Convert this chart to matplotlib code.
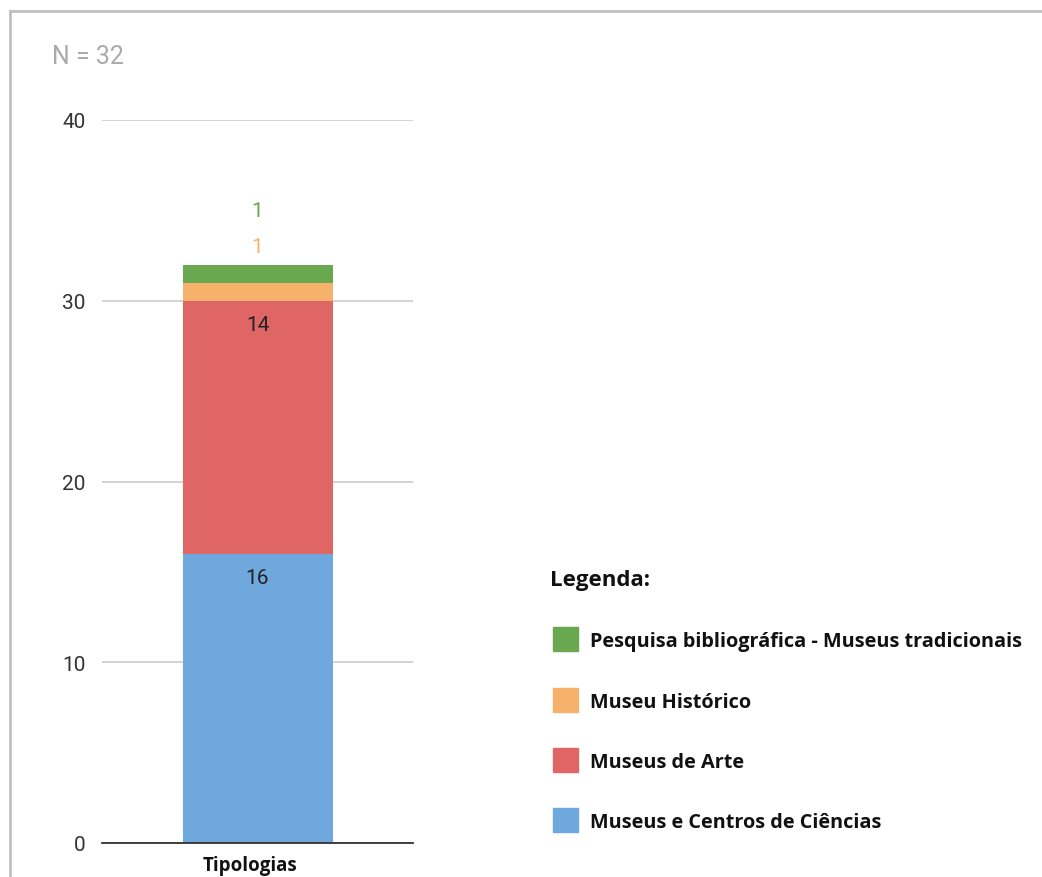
import matplotlib

matplotlib.use("Agg")

import matplotlib.pyplot as plt
from matplotlib.lines import Line2D
from matplotlib.patches import Rectangle


# ==================================================
# DATA
# ==================================================

category = "Tipologias"

series_names = [
    "Museus e Centros de Ciências",
    "Museus de Arte",
    "Museu Histórico",
    "Pesquisa bibliográfica - Museus tradicionais",
]

series_values = [16, 14, 1, 1]

series_colors = ["#6fa8dc", "#e06666", "#f6b26b", "#6aa84f"]

y_ticks = [0, 10, 20, 30, 40]

total_label = "N = 32"


# ==================================================
# FIGURE
# ==================================================

W, H = 1042, 878

fig = plt.figure(figsize=(W / 100, H / 100), dpi=100)


def fx(px):
    return px / W


def fy(py):
    return 1 - py / H


ax = fig.add_axes([fx(102), fy(844), fx(413) - fx(102), fy(121) - fy(844)])

ax.set_xlim(-0.5, 0.5)
ax.set_ylim(0, 40)

bar_width = 150 / 311

bottom = 0

for i, (name, value, color) in enumerate(zip(series_names, series_values, series_colors)):

    ax.bar(0, value, bottom=bottom, width=bar_width, color=color,
           edgecolor="none", zorder=3)

    top = bottom + value

    if value >= 5:
        ax.text(0, top - 1.3, str(value), ha="center", va="center",
                fontsize=15, color="#222222", family="Roboto", zorder=4)

    bottom = top

# small labels above the bar
ax.text(0, 33.0, str(series_values[2]), ha="center", va="center",
        fontsize=15, color=series_colors[2], family="Roboto")
ax.text(0, 35.0, str(series_values[3]), ha="center", va="center",
        fontsize=15, color=series_colors[3], family="Roboto")

ax.set_yticks(y_ticks)
ax.set_yticklabels([str(t) for t in y_ticks], fontsize=15,
                   family="Roboto", color="#333333")
ax.tick_params(axis="y", length=0, pad=12)

ax.set_xticks([])

ax.grid(True, axis="y", color="#cccccc", linewidth=1.2, zorder=0)
ax.set_axisbelow(True)

for side in ["top", "right", "left"]:
    ax.spines[side].set_visible(False)

ax.spines["bottom"].set_color("#333333")
ax.spines["bottom"].set_linewidth(1.3)
ax.spines["bottom"].set_zorder(5)

fig.text(fx(250), fy(866), category, ha="center", va="center",
         fontsize=13.5, fontweight="bold", family="Open Sans", color="#111111")

fig.text(fx(52), fy(57), total_label, ha="left", va="center",
         fontsize=18, family="Roboto", color="#aaaaaa")


# ==================================================
# LEGEND
# ==================================================

fig.text(fx(550), fy(581), "Legenda:", ha="left", va="center",
         fontsize=16, fontweight="bold", family="Open Sans", color="#111111")

legend_rows = [640, 701, 761, 821]

for row_y, name, color in zip(legend_rows, series_names[::-1], series_colors[::-1]):

    fig.patches.append(Rectangle((fx(553), fy(row_y + 12)), fx(25), fy(row_y - 12) - fy(row_y + 12),
                                 transform=fig.transFigure, color=color, figure=fig))

    fig.text(fx(590), fy(row_y + 2), name, ha="left", va="center",
             fontsize=14.3, fontweight="bold", family="Open Sans", color="#111111")


# ==================================================
# FRAME
# ==================================================

fig.lines.append(Line2D([fx(10), 1], [fy(12), fy(12)], transform=fig.transFigure,
                        color="#c0c0c0", linewidth=2))
fig.lines.append(Line2D([fx(10), fx(10)], [fy(12), 0], transform=fig.transFigure,
                        color="#c0c0c0", linewidth=2))

fig.savefig("out.png", dpi=100)
